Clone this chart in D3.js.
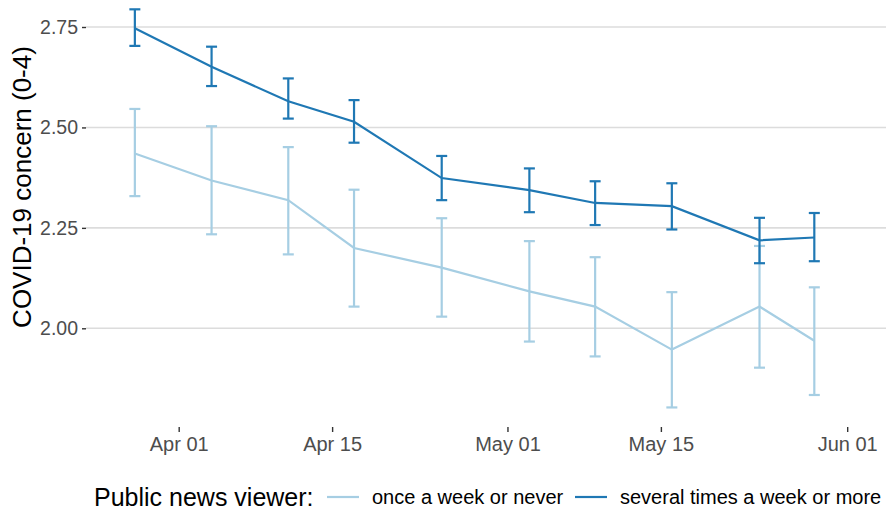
<!DOCTYPE html>
<html>
<head>
<meta charset="utf-8">
<script src="https://cdn.jsdelivr.net/npm/d3@7"></script>
<style>
  html, body { margin: 0; padding: 0; background: #fff; }
  svg { display: block; font-family: "Liberation Sans", Arial, sans-serif; }
</style>
</head>
<body>
<svg id="chart" width="887" height="511"></svg>
<script>
// Survey waves (mean interview date of each wave)
const waveDates = ["2020-03-28", "2020-04-04", "2020-04-11", "2020-04-17", "2020-04-25",
                   "2020-05-03", "2020-05-09", "2020-05-16", "2020-05-24", "2020-05-29"];

// Mean COVID-19 concern with confidence bounds, by public news viewing
const seriesNames = ["once a week or never", "several times a week or more"];
const seriesColors = ["#a6cee3", "#1f78b4"];

const rareMean  = [2.435, 2.368, 2.319, 2.200, 2.151, 2.092, 2.054, 1.947, 2.054, 1.969];
const rareLow   = [2.329, 2.234, 2.184, 2.054, 2.029, 1.967, 1.930, 1.803, 1.902, 1.834];
const rareHigh  = [2.546, 2.503, 2.451, 2.345, 2.274, 2.217, 2.177, 2.090, 2.205, 2.102];

const oftenMean = [2.747, 2.651, 2.565, 2.514, 2.374, 2.344, 2.312, 2.304, 2.219, 2.226];
const oftenLow  = [2.703, 2.603, 2.522, 2.462, 2.319, 2.289, 2.257, 2.246, 2.162, 2.167];
const oftenHigh = [2.794, 2.701, 2.622, 2.568, 2.429, 2.398, 2.366, 2.361, 2.275, 2.287];

const yTicks = [2.00, 2.25, 2.50, 2.75];
const xTicks = ["2020-04-01", "2020-04-15", "2020-05-01", "2020-05-15", "2020-06-01"];

const yTitle = "COVID-19 concern (0-4)";
const legendTitle = "Public news viewer:";

const parse = d3.utcParse("%Y-%m-%d");
const parseDT = d3.utcParse("%Y-%m-%dT%H:%M");

const series = [
  { name: seriesNames[0], color: seriesColors[0], mean: rareMean, low: rareLow, high: rareHigh },
  { name: seriesNames[1], color: seriesColors[1], mean: oftenMean, low: oftenLow, high: oftenHigh }
].map(s => ({
  ...s,
  points: waveDates.map((d, i) => ({ date: parse(d), mean: s.mean[i], low: s.low[i], high: s.high[i] }))
}));

const svg = d3.select("#chart");
const panel = { left: 86, right: 886, top: 0, bottom: 427 };

const x = d3.scaleUtc()
  .domain([parseDT("2020-03-23T13:00"), parseDT("2020-06-04T13:00")])
  .range([panel.left, panel.right]);

const y = d3.scaleLinear()
  .domain([2.0, 2.75])
  .range([328.3, 27]);

// Horizontal grid lines
svg.append("g")
  .selectAll("line")
  .data(yTicks)
  .join("line")
  .attr("x1", panel.left)
  .attr("x2", panel.right)
  .attr("y1", d => y(d))
  .attr("y2", d => y(d))
  .attr("stroke", "#dcdcdc")
  .attr("stroke-width", 1.6);

// Y axis
const yAxis = svg.append("g")
  .attr("transform", `translate(${panel.left},0)`)
  .call(d3.axisLeft(y).tickValues(yTicks).tickFormat(d3.format(".2f")).tickSize(4).tickPadding(4));
yAxis.select(".domain").remove();
yAxis.selectAll(".tick line").attr("stroke", "#333").attr("stroke-width", 1.4);
yAxis.selectAll(".tick text")
  .attr("fill", "#4d4d4d")
  .style("font-size", "19.5px")
  .style("font-family", "'Liberation Sans', Arial, sans-serif");

// X axis
const xAxis = svg.append("g")
  .attr("transform", `translate(0,${panel.bottom})`)
  .call(d3.axisBottom(x).tickValues(xTicks.map(parse)).tickFormat(d3.utcFormat("%b %d")).tickSize(5).tickPadding(5));
xAxis.select(".domain").remove();
xAxis.selectAll(".tick line").attr("stroke", "#333").attr("stroke-width", 1.4);
xAxis.selectAll(".tick text")
  .attr("fill", "#4d4d4d")
  .style("font-size", "20px")
  .style("font-family", "'Liberation Sans', Arial, sans-serif");

// Y axis title
svg.append("text")
  .attr("transform", `translate(31,187) rotate(-90)`)
  .attr("text-anchor", "middle")
  .style("font-size", "26px")
  .attr("fill", "#000")
  .text(yTitle);

const line = d3.line().x(d => x(d.date)).y(d => y(d.mean));
const capHalf = 5.5;

const groups = svg.append("g")
  .selectAll("g.series")
  .data(series)
  .join("g")
  .attr("class", "series");

// Error bars and mean lines
groups.each(function (s) {
  const g = d3.select(this);
  const eb = g.selectAll("g.eb").data(s.points).join("g").attr("class", "eb")
    .attr("stroke", s.color).attr("stroke-width", 2.2).attr("fill", "none");
  eb.append("line")
    .attr("x1", d => x(d.date)).attr("x2", d => x(d.date))
    .attr("y1", d => y(d.low)).attr("y2", d => y(d.high));
  eb.append("line")
    .attr("x1", d => x(d.date) - capHalf).attr("x2", d => x(d.date) + capHalf)
    .attr("y1", d => y(d.high)).attr("y2", d => y(d.high));
  eb.append("line")
    .attr("x1", d => x(d.date) - capHalf).attr("x2", d => x(d.date) + capHalf)
    .attr("y1", d => y(d.low)).attr("y2", d => y(d.low));
  g.append("path")
    .datum(s.points)
    .attr("d", line)
    .attr("fill", "none")
    .attr("stroke", s.color)
    .attr("stroke-width", 2.2);
});

// Legend
const legendY = 497;
const legend = svg.append("g");
legend.append("text")
  .attr("x", 94).attr("y", legendY + 9)
  .style("font-size", "25px")
  .attr("fill", "#000")
  .text(legendTitle);

const itemX = [[327, 372], [575, 620]];
series.forEach((s, i) => {
  legend.append("line")
    .attr("x1", itemX[i][0]).attr("x2", itemX[i][0] + 32)
    .attr("y1", legendY).attr("y2", legendY)
    .attr("stroke", s.color).attr("stroke-width", 2.2);
  legend.append("text")
    .attr("x", itemX[i][1]).attr("y", legendY + 7)
    .style("font-size", "20px")
    .attr("fill", "#000")
    .text(s.name);
});
</script>
</body>
</html>
